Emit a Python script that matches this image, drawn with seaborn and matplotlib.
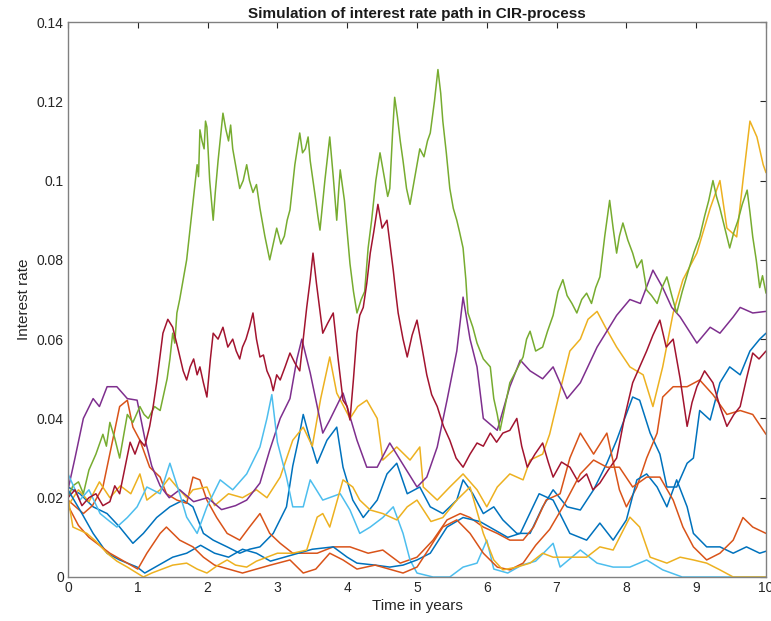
import matplotlib
matplotlib.use("Agg")
import matplotlib.pyplot as plt
import seaborn as sns
import pandas as pd

# Ten simulated CIR short-rate paths: (time in years, interest rate) samples
path_blue_a = [(0,.0227),(.17,.021),(.36,.0177),(.56,.016),(.74,.0126),(.93,.0085),(1.08,.011),(1.27,.015),(1.46,.0177),(1.65,.0194),(1.79,.0177),(1.94,.011),(2.08,.0093),(2.28,.0076),(2.46,.006),(2.6,.007),(2.75,.0076),(2.94,.011),(3.13,.0177),(3.22,.028),(3.3,.0345),(3.37,.041),(3.47,.0345),(3.57,.0287),(3.71,.0345),(3.85,.0378),(3.94,.0277),(4.08,.0194),(4.23,.015),(4.43,.0194),(4.57,.026),(4.71,.0287),(4.86,.021),(5.04,.0227),(5.19,.0177),(5.37,.016),(5.57,.0194),(5.66,.0245),(5.8,.021),(5.95,.016),(6.1,.0177),(6.23,.0144),(6.43,.011),(6.62,.011),(6.8,.0177),(6.95,.022),(7.15,.0177),(7.34,.0169),(7.53,.022),(7.72,.0287),(7.86,.0345),(7.95,.0388),(8.09,.0454),(8.19,.0446),(8.34,.0363),(8.48,.031),(8.58,.0227),(8.72,.0227),(8.87,.0287),(8.96,.030),(9.05,.042),(9.2,.0396),(9.34,.049),(9.48,.053),(9.63,.051),(9.77,.057),(9.91,.060),(10,.0615)]
path_orange_a = [(0,.0194),(.22,.016),(.35,.018),(.5,.0227),(.64,.0345),(.74,.043),(.85,.0446),(.93,.0378),(1.03,.0345),(1.17,.0277),(1.32,.0252),(1.41,.021),(1.56,.0194),(1.7,.0186),(1.79,.0252),(1.89,.0245),(1.99,.0194),(2.13,.015),(2.28,.011),(2.46,.0093),(2.6,.0126),(2.75,.016),(2.89,.011),(3.04,.0085),(3.22,.006),(3.37,.006),(3.57,.006),(3.8,.0076),(4.04,.0076),(4.3,.006),(4.51,.0068),(4.76,.0035),(5.0,.005),(5.23,.0093),(5.43,.0144),(5.62,.016),(5.76,.015),(5.95,.0126),(6.15,.011),(6.33,.0093),(6.52,.0093),(6.67,.0126),(6.85,.0194),(7.05,.021),(7.19,.030),(7.34,.0363),(7.53,.031),(7.72,.0363),(7.9,.022),(8.0,.0177),(8.15,.0227),(8.29,.030),(8.44,.0363),(8.52,.0454),(8.67,.048),(8.87,.048),(9.05,.0497),(9.24,.046),(9.44,.041),(9.63,.042),(9.81,.041),(10,.036)]
path_yellow_a = [(0,.018),(.15,.022),(.3,.019),(.45,.024),(.6,.020),(.75,.023),(.9,.021),(1.03,.026),(1.13,.0194),(1.32,.022),(1.45,.025),(1.56,.0227),(1.7,.020),(1.79,.022),(1.99,.0227),(2.1,.018),(2.3,.021),(2.5,.020),(2.7,.022),(2.85,.020),(3.04,.0252),(3.22,.0345),(3.37,.0378),(3.5,.033),(3.62,.045),(3.75,.0555),(3.85,.0464),(4.04,.040),(4.15,.043),(4.28,.0446),(4.43,.040),(4.51,.0295),(4.71,.0328),(4.9,.0295),(5.04,.0328),(5.09,.0227),(5.29,.0194),(5.47,.0227),(5.66,.026),(5.86,.022),(6.0,.0177),(6.15,.0227),(6.33,.026),(6.52,.0245),(6.62,.0295),(6.8,.031),(6.9,.036),(7.05,.047),(7.19,.057),(7.34,.060),(7.45,.065),(7.58,.067),(7.7,.063),(7.86,.058),(8.05,.053),(8.24,.051),(8.38,.043),(8.52,.053),(8.67,.0666),(8.81,.075),(9.01,.0817),(9.2,.093),(9.34,.100),(9.44,.088),(9.58,.0858),(9.67,.100),(9.77,.115),(9.87,.111),(9.96,.104),(10,.102)]
path_purple = [(0,.022),(.1,.030),(.22,.040),(.36,.045),(.45,.043),(.56,.048),(.7,.048),(.85,.045),(.99,.0446),(1.1,.035),(1.2,.028),(1.32,.023),(1.45,.020),(1.6,.022),(1.8,.019),(2.0,.020),(2.2,.017),(2.4,.018),(2.56,.0194),(2.75,.0237),(2.89,.032),(3.04,.040),(3.18,.045),(3.28,.055),(3.35,.060),(3.47,.0515),(3.65,.0363),(3.75,.0396),(3.94,.0464),(4.14,.0345),(4.28,.0277),(4.43,.0277),(4.61,.0338),(4.76,.0295),(5.0,.0227),(5.14,.0252),(5.29,.0328),(5.43,.0446),(5.57,.057),(5.66,.0706),(5.76,.060),(5.86,.053),(5.95,.040),(6.15,.037),(6.33,.048),(6.48,.0547),(6.62,.052),(6.8,.050),(6.95,.053),(7.15,.045),(7.34,.049),(7.58,.058),(7.72,.062),(7.86,.066),(8.05,.070),(8.2,.069),(8.38,.0774),(8.52,.073),(8.65,.068),(8.77,.0656),(9.01,.059),(9.2,.063),(9.34,.0615),(9.53,.0656),(9.63,.068),(9.81,.0666),(10,.067)]
path_green = [(0,.020),(.07,.023),(.15,.024),(.22,.021),(.3,.027),(.4,.031),(.5,.036),(.55,.033),(.6,.039),(.67,.035),(.74,.030),(.8,.036),(.85,.041),(.93,.039),(1.03,.043),(1.09,.041),(1.15,.040),(1.24,.043),(1.32,.042),(1.37,.046),(1.42,.050),(1.46,.055),(1.5,.0615),(1.53,.059),(1.56,.0666),(1.6,.070),(1.65,.075),(1.7,.080),(1.75,.088),(1.8,.096),(1.85,.104),(1.87,.101),(1.89,.1128),(1.92,.110),(1.95,.108),(1.97,.115),(1.99,.1135),(2.03,.100),(2.08,.090),(2.11,.097),(2.15,.105),(2.19,.112),(2.22,.117),(2.26,.113),(2.3,.110),(2.33,.114),(2.36,.108),(2.41,.103),(2.46,.098),(2.51,.100),(2.56,.104),(2.6,.100),(2.65,.097),(2.7,.099),(2.75,.093),(2.82,.086),(2.89,.080),(2.94,.084),(2.99,.088),(3.05,.084),(3.1,.086),(3.14,.090),(3.18,.0926),(3.25,.104),(3.32,.112),(3.36,.107),(3.4,.108),(3.44,.111),(3.47,.105),(3.51,.100),(3.55,.095),(3.58,.091),(3.61,.0875),(3.68,.100),(3.75,.111),(3.8,.101),(3.85,.090),(3.88,.098),(3.9,.1027),(3.96,.095),(4.04,.079),(4.09,.072),(4.14,.0666),(4.2,.070),(4.25,.072),(4.3,.083),(4.35,.090),(4.41,.100),(4.47,.107),(4.53,.101),(4.58,.096),(4.61,.098),(4.65,.112),(4.68,.121),(4.72,.116),(4.76,.110),(4.8,.105),(4.85,.098),(4.9,.094),(4.96,.100),(5.0,.104),(5.04,.108),(5.1,.106),(5.15,.110),(5.19,.112),(5.25,.120),(5.3,.128),(5.34,.122),(5.37,.115),(5.42,.107),(5.47,.098),(5.52,.093),(5.57,.090),(5.61,.087),(5.66,.083),(5.7,.075),(5.73,.0666),(5.8,.063),(5.86,.059),(5.95,.055),(6.05,.053),(6.1,.045),(6.15,.041),(6.19,.037),(6.26,.043),(6.33,.049),(6.42,.052),(6.52,.0555),(6.57,.060),(6.62,.062),(6.7,.057),(6.8,.058),(6.87,.062),(6.95,.066),(7.02,.072),(7.09,.075),(7.15,.071),(7.22,.069),(7.29,.0666),(7.36,.070),(7.43,.0716),(7.5,.069),(7.56,.073),(7.62,.0757),(7.69,.086),(7.76,.095),(7.81,.088),(7.86,.0817),(7.9,.086),(7.95,.0893),(8.02,.085),(8.09,.0817),(8.15,.078),(8.22,.080),(8.29,.0724),(8.36,.071),(8.44,.069),(8.51,.073),(8.58,.0757),(8.65,.071),(8.72,.0666),(8.8,.072),(8.9,.078),(8.97,.082),(9.05,.0858),(9.12,.091),(9.18,.095),(9.24,.100),(9.29,.096),(9.34,.093),(9.41,.088),(9.48,.083),(9.54,.087),(9.6,.090),(9.66,.094),(9.73,.0976),(9.77,.092),(9.81,.0858),(9.86,.080),(9.91,.073),(9.95,.076),(10,.0716)]
path_lightblue = [(0,.026),(.17,.0194),(.3,.022),(.46,.016),(.6,.014),(.7,.0126),(.85,.015),(.99,.0177),(1.13,.0227),(1.32,.021),(1.46,.0287),(1.6,.021),(1.7,.0151),(1.85,.011),(1.99,.0177),(2.18,.0245),(2.36,.022),(2.56,.026),(2.75,.0328),(2.85,.040),(2.92,.046),(3.0,.034),(3.13,.0252),(3.22,.0177),(3.37,.0177),(3.47,.0245),(3.65,.0194),(3.9,.021),(4.04,.0169),(4.18,.011),(4.33,.0126),(4.51,.015),(4.66,.0177),(4.8,.011),(4.9,.0043),(5.0,.001),(5.23,.0),(5.47,.0),(5.66,.0025),(5.86,.0035),(6.0,.0093),(6.1,.002),(6.3,.001),(6.5,.003),(6.7,.004),(6.95,.0085),(7.05,.0025),(7.34,.0068),(7.58,.0035),(7.81,.0025),(8.05,.0025),(8.29,.0043),(8.52,.0018),(8.8,.0),(9.2,.0),(10,.0)]
path_darkred = [(0,.020),(.1,.022),(.2,.018),(.3,.020),(.4,.021),(.5,.018),(.6,.019),(.67,.023),(.74,.021),(.82,.028),(.89,.034),(.96,.031),(1.03,.0345),(1.1,.033),(1.17,.038),(1.22,.043),(1.27,.049),(1.32,.056),(1.36,.0615),(1.43,.065),(1.5,.063),(1.57,.058),(1.65,.052),(1.7,.0497),(1.75,.053),(1.8,.055),(1.85,.051),(1.89,.053),(1.94,.049),(1.99,.0454),(2.04,.055),(2.08,.0615),(2.15,.060),(2.22,.063),(2.29,.058),(2.36,.060),(2.41,.057),(2.46,.055),(2.5,.058),(2.55,.060),(2.6,.063),(2.65,.0666),(2.7,.060),(2.75,.0555),(2.8,.056),(2.85,.052),(2.9,.050),(2.94,.047),(2.99,.051),(3.04,.0497),(3.11,.053),(3.18,.0565),(3.25,.054),(3.32,.052),(3.37,.060),(3.42,.068),(3.47,.075),(3.51,.0817),(3.56,.074),(3.61,.067),(3.65,.0615),(3.72,.064),(3.8,.0666),(3.87,.055),(3.94,.0446),(4.0,.043),(4.04,.0396),(4.09,.050),(4.14,.0615),(4.18,.066),(4.23,.068),(4.28,.074),(4.33,.0817),(4.38,.087),(4.44,.094),(4.5,.088),(4.57,.090),(4.62,.083),(4.66,.0774),(4.7,.071),(4.73,.0666),(4.8,.060),(4.86,.0555),(4.93,.061),(5.0,.0648),(5.07,.058),(5.14,.051),(5.21,.046),(5.29,.043),(5.38,.038),(5.47,.0345),(5.56,.030),(5.66,.0277),(5.76,.031),(5.86,.0338),(5.95,.033),(6.05,.0363),(6.14,.034),(6.23,.0363),(6.33,.037),(6.43,.040),(6.5,.033),(6.58,.0277),(6.69,.031),(6.8,.0338),(6.88,.029),(6.95,.0252),(7.07,.029),(7.19,.0277),(7.31,.024),(7.43,.026),(7.52,.022),(7.62,.0237),(7.74,.027),(7.86,.030),(7.97,.040),(8.09,.049),(8.19,.053),(8.29,.057),(8.38,.061),(8.48,.0648),(8.57,.058),(8.67,.060),(8.77,.050),(8.87,.038),(8.94,.044),(9.01,.048),(9.12,.052),(9.24,.049),(9.34,.043),(9.44,.038),(9.54,.041),(9.63,.043),(9.72,.050),(9.81,.0565),(9.9,.055),(10,.057)]
path_blue_b = [(0,.022),(.2,.016),(.36,.011),(.56,.006),(.74,.0043),(.99,.0025),(1.1,.001),(1.3,.003),(1.5,.005),(1.7,.006),(1.9,.008),(2.1,.006),(2.3,.005),(2.5,.007),(2.7,.006),(2.9,.004),(3.1,.005),(3.3,.006),(3.5,.007),(3.8,.0076),(4.0,.005),(4.14,.0035),(4.4,.003),(4.61,.0025),(4.8,.003),(5.0,.0043),(5.19,.006),(5.43,.0126),(5.66,.015),(5.9,.014),(6.1,.012),(6.3,.010),(6.48,.011),(6.75,.021),(6.95,.0194),(7.19,.011),(7.43,.0093),(7.62,.0136),(7.81,.0093),(8.0,.0144),(8.15,.0245),(8.29,.026),(8.44,.0227),(8.58,.0177),(8.72,.0245),(8.87,.0177),(8.96,.011),(9.15,.0076),(9.34,.0076),(9.53,.006),(9.72,.0076),(9.91,.006),(10,.0065)]
path_orange_b = [(0,.018),(.15,.013),(.3,.010),(.45,.008),(.6,.006),(.85,.0035),(1.0,.002),(1.13,.006),(1.32,.011),(1.41,.0126),(1.6,.0093),(1.79,.0076),(1.94,.005),(2.1,.003),(2.3,.002),(2.5,.001),(2.7,.002),(2.9,.003),(3.18,.0043),(3.37,.001),(3.55,.002),(3.75,.006),(3.94,.0043),(4.14,.002),(4.4,.003),(4.6,.002),(4.8,.001),(5.0,.0025),(5.19,.0076),(5.37,.0126),(5.57,.0144),(5.76,.011),(5.95,.006),(6.15,.0025),(6.33,.0018),(6.52,.0035),(6.7,.008),(6.9,.012),(7.1,.018),(7.34,.026),(7.53,.0295),(7.72,.0277),(7.9,.0277),(8.09,.0227),(8.29,.0252),(8.48,.0252),(8.67,.0194),(8.81,.0126),(8.96,.0076),(9.15,.0043),(9.34,.006),(9.53,.0093),(9.67,.015),(9.81,.0126),(10,.011)]
path_yellow_b = [(0,.020),(.07,.0126),(.27,.011),(.4,.009),(.56,.006),(.7,.004),(.85,.0025),(1.08,.0),(1.2,.001),(1.32,.0018),(1.5,.003),(1.7,.0035),(1.85,.002),(1.99,.001),(2.15,.003),(2.28,.0043),(2.4,.003),(2.56,.0025),(2.7,.004),(2.85,.005),(3.0,.006),(3.22,.006),(3.42,.0068),(3.57,.0151),(3.65,.016),(3.75,.0126),(3.94,.0245),(4.08,.0227),(4.18,.0194),(4.33,.0169),(4.51,.016),(4.71,.0144),(4.86,.0177),(5.0,.0194),(5.2,.014),(5.37,.015),(5.57,.0194),(5.76,.0227),(5.95,.011),(6.1,.0043),(6.23,.0018),(6.43,.0025),(6.62,.0035),(6.8,.006),(6.95,.005),(7.19,.005),(7.43,.005),(7.62,.0076),(7.81,.0068),(8.05,.0151),(8.19,.0126),(8.34,.005),(8.58,.0035),(8.77,.005),(8.96,.0043),(9.15,.0035),(9.34,.0018),(9.53,.0),(9.8,.0),(10,.0)]

paths = [path_blue_a, path_orange_a, path_yellow_a, path_purple, path_green,
         path_lightblue, path_darkred, path_blue_b, path_orange_b, path_yellow_b]
path_colors = ["#0072BD", "#D95319", "#EDB120", "#7E2F8E", "#77AC30",
               "#4DBEEE", "#A2142F", "#0072BD", "#D95319", "#EDB120"]

x_ticks = list(range(0, 11))
y_ticks = [0, 0.02, 0.04, 0.06, 0.08, 0.1, 0.12, 0.14]
y_tick_labels = ["0", "0.02", "0.04", "0.06", "0.08", "0.1", "0.12", "0.14"]

rows = []
for k, p in enumerate(paths):
    for t, r in p:
        rows.append({"path": k, "t": t, "rate": r})
df = pd.DataFrame(rows)

sns.set_theme(style="white")
plt.rcParams["font.family"] = ["Liberation Sans", "DejaVu Sans"]

fig = plt.figure(figsize=(7.71, 6.21), dpi=100)
ax = fig.add_axes([68 / 771, 1 - 577 / 621, (766 - 68) / 771, (577 - 22) / 621])

sns.lineplot(data=df, x="t", y="rate", hue="path", palette=path_colors,
             estimator=None, sort=False, legend=False, linewidth=1.1, ax=ax)

ax.set_xlim(0, 10)
ax.set_ylim(0, 0.14)
ax.set_xticks(x_ticks)
ax.set_xticklabels([str(v) for v in x_ticks])
ax.set_yticks(y_ticks)
ax.set_yticklabels(y_tick_labels)

for s in ax.spines.values():
    s.set_visible(True)
    s.set_color("#808080")
    s.set_linewidth(1.0)
ax.tick_params(direction="in", length=4, width=0.8, color="#262626",
               top=True, right=True, labelsize=10, labelcolor="#262626", pad=3)

ax.set_xlabel("Time in years", fontsize=11, color="#262626", labelpad=3)
ax.set_ylabel("Interest rate", fontsize=11, color="#262626", labelpad=4)
ax.set_title("Simulation of interest rate path in CIR-process", fontsize=11,
             fontweight="bold", color="#1a1a1a", pad=3)

fig.savefig("out.png", dpi=100)
